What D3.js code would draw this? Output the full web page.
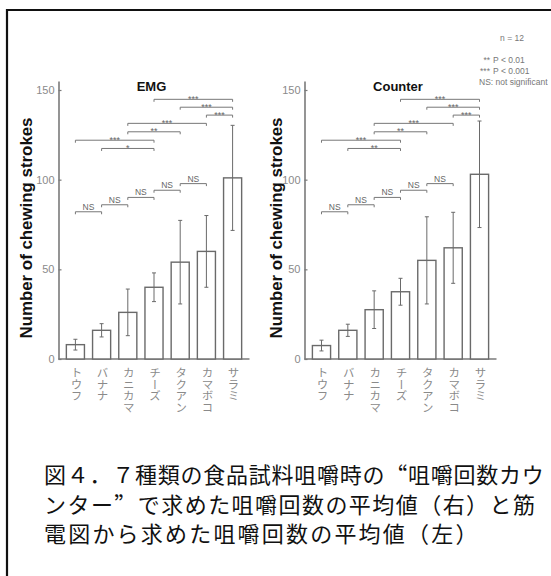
<!DOCTYPE html>
<html lang="ja">
<head>
<meta charset="utf-8">
<script src="https://cdn.jsdelivr.net/npm/d3@7"></script>
<style>
  html, body { margin: 0; padding: 0; background: #fff; }
  svg { display: block; }
  .sans { font-family: "Liberation Sans", Arial, Helvetica, sans-serif; }
  .jp { font-family: "Noto Sans CJK JP", sans-serif; }
</style>
</head>
<body>
<script>
// Foods tested, in order of increasing chewing effort
const foods = ["トウフ", "バナナ", "カニカマ", "チーズ", "タクアン", "カマボコ", "サラミ"];

// Mean number of chewing strokes and error bar half-lengths
const emgMeans = [8, 16, 26, 40, 54, 60, 101];
const emgErrors = [3, 3.7, 13, 8, 23.3, 20, 29.3];
const counterMeans = [7.5, 16, 27.5, 37.5, 55, 62, 103];
const counterErrors = [3, 3.4, 10.5, 7.5, 24.3, 19.8, 29.7];

const yTicks = [0, 50, 100, 150];

// Pairwise comparisons: food indices, bracket height (strokes), significance marks
const sigFrom = [0, 1, 2, 2, 3, 4, 5];
const sigTo = [3, 3, 4, 5, 6, 6, 6];
const sigLevels = [122, 117.4, 126.7, 131.4, 144.8, 140.4, 136];
const emgMarks = ["***", "*", "**", "***", "***", "***", "***"];
const counterMarks = ["***", "**", "**", "***", "***", "***", "***"];

const nsFrom = [0, 1, 2, 3, 4];
const nsTo = [1, 2, 3, 4, 5];
const nsLevels = [82.1, 86, 90.1, 94.1, 97.8];

const legendLines = ["** P < 0.01", "*** P < 0.001", "NS: not significant"];
const captionLines = [
  "図４．７種類の食品試料咀嚼時の“咀嚼回数カウ",
  "ンター”で求めた咀嚼回数の平均値（右）と筋",
  "電図から求めた咀嚼回数の平均値（左）"
];

const W = 551, H = 576;
const svg = d3.select("body").append("svg")
  .attr("width", W).attr("height", H);

// Outer frame (runs off the right and bottom edges)
svg.append("path")
  .attr("d", "M7,590V10H560")
  .attr("fill", "none").attr("stroke", "#111").attr("stroke-width", 2.2);

const y = d3.scaleLinear().domain([0, 155]).range([359, 359 - 155 * 269 / 150]);
const axisGrey = "#7a7a7a";
const markGrey = "#6a6a6a";

function drawPanel(opts) {
  const { left, right, title, labelX, means, errors, marks } = opts;
  const g = svg.append("g");
  const x = d3.scaleBand().domain(foods).range([left, right])
    .paddingInner(0.31).paddingOuter(0.3);
  const cx = i => x(foods[i]) + x.bandwidth() / 2;

  // y axis
  const yAxis = d3.axisLeft(y).tickValues(yTicks).tickSizeInner(-3).tickSizeOuter(0).tickPadding(4);
  const ya = g.append("g").attr("transform", `translate(${left},0)`).call(yAxis);
  ya.select(".domain").attr("stroke", axisGrey).attr("stroke-width", 1.6);
  ya.selectAll(".tick line").attr("stroke", axisGrey).attr("stroke-width", 1.2);
  ya.selectAll(".tick text").attr("class", "sans").attr("fill", "#8a8a8a")
    .style("font-size", "11px");

  // x axis baseline
  g.append("line").attr("x1", left).attr("x2", right)
    .attr("y1", y(0)).attr("y2", y(0))
    .attr("stroke", axisGrey).attr("stroke-width", 1.6);

  // bars
  g.selectAll("rect.bar").data(means).join("rect")
    .attr("class", "bar")
    .attr("x", (d, i) => x(foods[i]))
    .attr("width", x.bandwidth())
    .attr("y", d => y(d))
    .attr("height", d => y(0) - y(d))
    .attr("fill", "#fff").attr("stroke", markGrey).attr("stroke-width", 1.4);

  // error bars
  const eb = g.selectAll("g.err").data(means).join("g").attr("class", "err")
    .attr("stroke", markGrey).attr("stroke-width", 1);
  eb.append("line")
    .attr("x1", (d, i) => cx(i)).attr("x2", (d, i) => cx(i))
    .attr("y1", (d, i) => y(d - errors[i])).attr("y2", (d, i) => y(d + errors[i]));
  eb.append("line")
    .attr("x1", (d, i) => cx(i) - 2).attr("x2", (d, i) => cx(i) + 2)
    .attr("y1", (d, i) => y(d + errors[i])).attr("y2", (d, i) => y(d + errors[i]));
  eb.append("line")
    .attr("x1", (d, i) => cx(i) - 2).attr("x2", (d, i) => cx(i) + 2)
    .attr("y1", (d, i) => y(d - errors[i])).attr("y2", (d, i) => y(d - errors[i]));

  // comparison brackets
  function bracket(a, b, level, label, fs, dy) {
    const yy = y(level);
    g.append("path")
      .attr("d", `M${cx(a)},${yy + 2.5}V${yy}H${cx(b)}V${yy + 2.5}`)
      .attr("fill", "none").attr("stroke", "#777").attr("stroke-width", 1);
    g.append("text").attr("class", "sans")
      .attr("x", (cx(a) + cx(b)) / 2).attr("y", yy + dy)
      .attr("text-anchor", "middle").attr("fill", "#666")
      .style("font-size", fs + "px").text(label);
  }
  sigFrom.forEach((a, i) => bracket(a, sigTo[i], sigLevels[i], marks[i], 9, 2.5));
  nsFrom.forEach((a, i) => bracket(a, nsTo[i], nsLevels[i], "NS", 8.5, -2));

  // food labels written vertically
  g.selectAll("text.food").data(foods).join("text")
    .attr("class", "food jp")
    .attr("x", d => x(d) + x.bandwidth() / 2 + 1)
    .attr("y", 367)
    .style("writing-mode", "vertical-rl")
    .style("text-orientation", "upright")
    .style("font-size", "11.5px")
    .attr("fill", "#8a8a8a")
    .text(d => d);

  // panel title
  g.append("text").attr("class", "sans")
    .attr("x", (left + right) / 2 - 2.5).attr("y", 91)
    .attr("text-anchor", "middle").attr("font-weight", "bold")
    .style("font-size", "13px").attr("fill", "#111").text(title);

  // y axis title
  g.append("text").attr("class", "sans")
    .attr("transform", `translate(${labelX},228) rotate(-90)`)
    .attr("text-anchor", "middle").attr("dy", "0.35em")
    .attr("font-weight", "bold").style("font-size", "16px")
    .attr("textLength", 221).attr("lengthAdjust", "spacingAndGlyphs")
    .attr("fill", "#111").text("Number of chewing strokes");
}

drawPanel({ left: 58.5, right: 249.5, title: "EMG", labelX: 26.5,
  means: emgMeans, errors: emgErrors, marks: emgMarks });
drawPanel({ left: 304.5, right: 496.5, title: "Counter", labelX: 276.5,
  means: counterMeans, errors: counterErrors, marks: counterMarks });

// legend
const lg = svg.append("g").attr("class", "sans").attr("fill", "#777")
  .style("font-size", "8.5px");
lg.append("text").attr("x", 512).attr("y", 41).attr("text-anchor", "middle").text("n = 12");
legendLines.forEach((t, i) => {
  const sp = t.indexOf(" ");
  const head = t.startsWith("NS") ? null : t.slice(0, sp);
  if (head) {
    lg.append("text").attr("x", 490).attr("y", 62.5 + i * 11)
      .attr("text-anchor", "end").text(head);
    lg.append("text").attr("x", 493).attr("y", 62.5 + i * 11).text(t.slice(sp + 1));
  } else {
    lg.append("text").attr("x", 479).attr("y", 62.5 + i * 11).text(t);
  }
});

// caption, one text per line with its own tracking
const captionTracking = [0.75, 1.45, 2.2];
captionLines.forEach((t, i) => {
  svg.append("text").attr("class", "jp")
    .attr("x", 44).attr("y", 483 + i * 29.5)
    .attr("fill", "#111").style("font-size", "22px")
    .style("letter-spacing", captionTracking[i] + "px")
    .style("font-feature-settings", '"fwid"')
    .text(t);
});
</script>
</body>
</html>
